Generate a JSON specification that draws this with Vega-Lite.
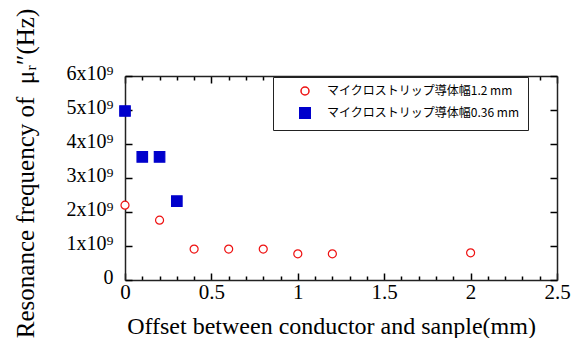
{
  "$schema": "https://vega.github.io/schema/vega-lite/v6.json",
  "autosize": "none",
  "width": 432,
  "height": 204,
  "padding": {"left": 125, "top": 76, "right": 16, "bottom": 58},
  "background": "white",
  "config": {"font": "Liberation Serif", "view": {"stroke": null}},
  "data": {"values": [
    {"offset": 0, "freq": 2200000000, "series": "マイクロストリップ導体幅1.2 mm"},
    {"offset": 0.2, "freq": 1760000000, "series": "マイクロストリップ導体幅1.2 mm"},
    {"offset": 0.4, "freq": 910000000, "series": "マイクロストリップ導体幅1.2 mm"},
    {"offset": 0.6, "freq": 910000000, "series": "マイクロストリップ導体幅1.2 mm"},
    {"offset": 0.8, "freq": 910000000, "series": "マイクロストリップ導体幅1.2 mm"},
    {"offset": 1.0, "freq": 770000000, "series": "マイクロストリップ導体幅1.2 mm"},
    {"offset": 1.2, "freq": 770000000, "series": "マイクロストリップ導体幅1.2 mm"},
    {"offset": 2.0, "freq": 800000000, "series": "マイクロストリップ導体幅1.2 mm"},
    {"offset": 0, "freq": 4970000000, "series": "マイクロストリップ導体幅0.36 mm"},
    {"offset": 0.1, "freq": 3620000000, "series": "マイクロストリップ導体幅0.36 mm"},
    {"offset": 0.2, "freq": 3620000000, "series": "マイクロストリップ導体幅0.36 mm"},
    {"offset": 0.3, "freq": 2320000000, "series": "マイクロストリップ導体幅0.36 mm"}
  ]},
  "layer": [
    {
      "mark": {"type": "point", "strokeWidth": 1.2, "opacity": 1},
      "encoding": {
        "x": {
          "field": "offset", "type": "quantitative",
          "scale": {"domain": [0, 2.5], "nice": false, "zero": false},
          "axis": {
            "orient": "bottom",
            "values": [0, 0.1, 0.2, 0.3, 0.4, 0.5, 0.6, 0.7, 0.8, 0.9, 1, 1.1, 1.2, 1.3, 1.4, 1.5, 1.6, 1.7, 1.8, 1.9, 2, 2.1, 2.2, 2.3, 2.4, 2.5],
            "labelExpr": "abs(datum.value*2 - round(datum.value*2)) < 0.001 ? format(datum.value, '~g') : ''",
            "tickSize": {"condition": {"test": "abs(datum.value*2 - round(datum.value*2)) < 0.001", "value": -7}, "value": -4},
            "tickColor": "black", "tickWidth": 1.5,
            "domainColor": "#222", "domainWidth": 1.5,
            "grid": false,
            "labelFontSize": 21, "labelColor": "black", "labelPadding": 8,
            "labelFlush": false, "labelOverlap": false,
            "title": "Offset between conductor and sanple(mm)",
            "titleFontSize": 24, "titleFontWeight": "normal", "titleColor": "black",
            "titleX": 206, "titleY": 53, "titleBaseline": "alphabetic", "titleAlign": "center"
          }
        },
        "y": {
          "field": "freq", "type": "quantitative",
          "scale": {"domain": [0, 6000000000], "nice": false},
          "axis": {
            "orient": "left",
            "values": [0, 1000000000, 2000000000, 3000000000, 4000000000, 5000000000, 6000000000],
            "labelExpr": "datum.value == 0 ? '0' : format(datum.value/1e9, 'd') + 'x10⁹'",
            "tickSize": -7, "tickColor": "black", "tickWidth": 1.5,
            "domainColor": "#222", "domainWidth": 1.5,
            "grid": false,
            "labelFontSize": 20, "labelColor": "black", "labelPadding": 19,
            "labelBaseline": "alphabetic", "labelOffset": 3,
            "labelFlush": false, "labelOverlap": false,
            "title": "Resonance frequency of \u00a0μᵣ″(Hz)",
            "titleFontSize": 25, "titleFontWeight": "normal", "titleColor": "black",
            "titleX": -92, "titleY": 97, "titleBaseline": "alphabetic", "titleAngle": 270, "titleAlign": "center"
          }
        },
        "shape": {
          "field": "series", "type": "nominal",
          "scale": {"domain": ["マイクロストリップ導体幅1.2 mm", "マイクロストリップ導体幅0.36 mm"], "range": ["circle", "square"]},
          "legend": {
            "orient": "none", "legendX": 148, "legendY": 1, "title": null,
            "strokeColor": "#222", "fillColor": "white",
            "padding": 8, "rowPadding": 6, "symbolOffset": 18, "labelOffset": 16,
            "labelFont": "Noto Sans CJK JP", "labelFontSize": 12, "labelLimit": 400,
            "labelExpr": "datum.label + '\u2003\u2002'",
            "encode": {
              "legend": {"update": {"strokeWidth": {"value": 1.5}}},
              "labels": {"update": {"fill": {"signal": "indexof(datum.value, '1.2') >= 0 ? '#e81515' : '#1515cc'"}}}
            }
          }
        },
        "stroke": {
          "field": "series", "type": "nominal",
          "scale": {"domain": ["マイクロストリップ導体幅1.2 mm", "マイクロストリップ導体幅0.36 mm"], "range": ["#ee1111", "#0000cc"]},
          "legend": {
            "orient": "none", "legendX": 148, "legendY": 1, "title": null,
            "strokeColor": "#222", "fillColor": "white",
            "padding": 8, "rowPadding": 6, "symbolOffset": 18, "labelOffset": 16,
            "labelFont": "Noto Sans CJK JP", "labelFontSize": 12, "labelLimit": 400,
            "labelExpr": "datum.label + '\u2003\u2002'",
            "encode": {
              "legend": {"update": {"strokeWidth": {"value": 1.5}}},
              "labels": {"update": {"fill": {"signal": "indexof(datum.value, '1.2') >= 0 ? '#e81515' : '#1515cc'"}}}
            }
          }
        },
        "fill": {
          "field": "series", "type": "nominal",
          "scale": {"domain": ["マイクロストリップ導体幅1.2 mm", "マイクロストリップ導体幅0.36 mm"], "range": ["white", "#0000cc"]},
          "legend": {
            "orient": "none", "legendX": 148, "legendY": 1, "title": null,
            "strokeColor": "#222", "fillColor": "white",
            "padding": 8, "rowPadding": 6, "symbolOffset": 18, "labelOffset": 16,
            "labelFont": "Noto Sans CJK JP", "labelFontSize": 12, "labelLimit": 400,
            "labelExpr": "datum.label + '\u2003\u2002'",
            "encode": {
              "legend": {"update": {"strokeWidth": {"value": 1.5}}},
              "labels": {"update": {"fill": {"signal": "indexof(datum.value, '1.2') >= 0 ? '#e81515' : '#1515cc'"}}}
            }
          }
        },
        "size": {
          "field": "series", "type": "nominal",
          "scale": {"domain": ["マイクロストリップ導体幅1.2 mm", "マイクロストリップ導体幅0.36 mm"], "range": [64, 110]},
          "legend": {
            "orient": "none", "legendX": 148, "legendY": 1, "title": null,
            "strokeColor": "#222", "fillColor": "white",
            "padding": 8, "rowPadding": 6, "symbolOffset": 18, "labelOffset": 16,
            "labelFont": "Noto Sans CJK JP", "labelFontSize": 12, "labelLimit": 400,
            "labelExpr": "datum.label + '\u2003\u2002'",
            "encode": {
              "legend": {"update": {"strokeWidth": {"value": 1.5}}},
              "labels": {"update": {"fill": {"signal": "indexof(datum.value, '1.2') >= 0 ? '#e81515' : '#1515cc'"}}}
            }
          }
        }
      }
    },
    {
      "mark": {"type": "point", "opacity": 0},
      "encoding": {
        "x": {
          "field": "offset", "type": "quantitative",
          "scale": {"domain": [0, 2.5], "nice": false, "zero": false},
          "axis": {
            "orient": "top",
            "values": [0, 0.1, 0.2, 0.3, 0.4, 0.5, 0.6, 0.7, 0.8, 0.9, 1, 1.1, 1.2, 1.3, 1.4, 1.5, 1.6, 1.7, 1.8, 1.9, 2, 2.1, 2.2, 2.3, 2.4, 2.5],
            "labels": false,
            "tickSize": {"condition": {"test": "abs(datum.value*2 - round(datum.value*2)) < 0.001", "value": -7}, "value": -4},
            "tickColor": "black", "tickWidth": 1.5,
            "domainColor": "#222", "domainWidth": 1.5,
            "grid": false, "title": null
          }
        },
        "y": {
          "field": "freq", "type": "quantitative",
          "scale": {"domain": [0, 6000000000], "nice": false},
          "axis": {
            "orient": "right",
            "values": [0, 1000000000, 2000000000, 3000000000, 4000000000, 5000000000, 6000000000],
            "labels": false,
            "tickSize": -7, "tickColor": "black", "tickWidth": 1.5,
            "domainColor": "#222", "domainWidth": 1.5,
            "grid": false, "title": null
          }
        }
      }
    }
  ],
  "resolve": {"axis": {"x": "independent", "y": "independent"}}
}
